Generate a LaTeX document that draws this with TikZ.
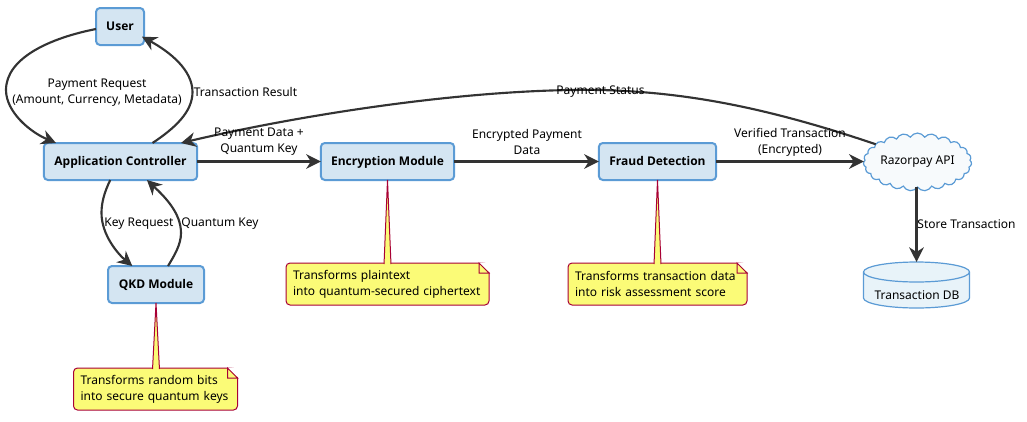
\documentclass[tikz,border=0pt]{standalone}
\usepackage{fontspec}
\setmainfont{Noto Sans}
\newfontfamily\modfont{Open Sans}
\usetikzlibrary{arrows.meta,shapes.symbols}
\definecolor{boxfill}{HTML}{D4E5F2}
\definecolor{boxline}{HTML}{5B9BD5}
\definecolor{cloudfill}{HTML}{F7FAFC}
\definecolor{dbfill}{HTML}{E8F3F9}
\definecolor{notefill}{HTML}{FBFB77}
\definecolor{noteline}{HTML}{A80036}
\definecolor{flowline}{HTML}{333333}

\begin{document}
\begin{tikzpicture}[x=0.75pt, y=-0.75pt]
\tikzset{
  every node/.style={font=\fontsize{9}{12}\selectfont, align=center, outer sep=0pt},
  modbox/.style={draw=boxline, fill=boxfill, line width=1.5pt, rounded corners=3pt,
    inner sep=0pt, minimum height=27.75pt, text height=8pt, text depth=1.5pt},
  notebox/.style={draw=noteline, fill=notefill, line width=0.75pt, rounded corners=3pt,
    text width=#1, inner xsep=5.25pt, inner ysep=0pt, minimum height=31.5pt, align=left},
  notetip/.style={draw=noteline, fill=notefill, line width=0.75pt},
  dbshape/.style={draw=boxline, fill=dbfill, line width=0.9pt},
  flow/.style={draw=flowline, line width=1.6pt,
    -{Stealth[length=11pt, width=11pt, inset=3.5pt]}},
}
\useasboundingbox (0,0) rectangle (1027,421);

\node[modbox, minimum width=36pt] (user) at (120,26.5) {\modfont\bfseries User};
\node[modbox, minimum width=115pt] (app) at (120.5,161.5) {\modfont\bfseries Application Controller};
\node[modbox, minimum width=100pt] (enc) at (387.5,161.5) {\modfont\bfseries Encryption Module};
\node[modbox, minimum width=88pt] (fraud) at (657.5,161.5) {\modfont\bfseries Fraud Detection};
\node[modbox, minimum width=72pt] (qkd) at (156,284.5) {\modfont\bfseries QKD Module};
\node[draw=boxline, fill=cloudfill, line width=0.9pt, cloud, cloud puffs=23, cloud puff arc=120,
  aspect=2.1, inner sep=0pt, minimum width=76pt, minimum height=36pt] (rzp) at (917.5,162) {Razorpay API};

% the database
\node[inner sep=0pt, minimum width=79.5pt, minimum height=34.5pt] (db) at (916.5,285) {};
\draw[dbshape] ([yshift=-7.5pt]db.north west) arc[start angle=180, end angle=0, x radius=39.75pt, y radius=7.5pt]
  -- ([yshift=7.5pt]db.south east) arc[start angle=0, end angle=-180, x radius=39.75pt, y radius=7.5pt] -- cycle;
\draw[dbshape, fill=none] ([yshift=-7.5pt]db.north west) arc[start angle=180, end angle=360, x radius=39.75pt, y radius=7.5pt];
\node (dbtext) at (917,295) {Transaction DB};

% the notes
\node[notebox=141.75pt] (noteenc) at (387.5,284) {Transforms plaintext\\into quantum-secured ciphertext};
\node[notebox=123.75pt] (notefraud) at (657.5,284) {Transforms transaction data\\into risk assessment score};
\node[notebox=112.5pt] (noteqkd) at (155.5,389) {Transforms random bits\\into secure quantum keys};

\path[notetip] ([xshift=-2.6pt, yshift=-0.75pt]enc.south |- noteenc.north) -- (enc.south) -- ([xshift=2.6pt, yshift=-0.75pt]enc.south |- noteenc.north);
\path[notetip] ([xshift=-2.6pt, yshift=-0.75pt]fraud.south |- notefraud.north) -- (fraud.south) -- ([xshift=2.6pt, yshift=-0.75pt]fraud.south |- notefraud.north);
\path[notetip] ([xshift=-2.6pt, yshift=-0.75pt]qkd.south |- noteqkd.north) -- (qkd.south) -- ([xshift=2.6pt, yshift=-0.75pt]qkd.south |- noteqkd.north);

\fill[white] ([xshift=-7.5pt]noteenc.north east) -- ([xshift=1pt, yshift=1pt]noteenc.north east) -- ([xshift=1pt, yshift=-7.5pt]noteenc.north east) -- cycle;
\fill[white] ([xshift=-7.5pt]notefraud.north east) -- ([xshift=1pt, yshift=1pt]notefraud.north east) -- ([xshift=1pt, yshift=-7.5pt]notefraud.north east) -- cycle;
\fill[white] ([xshift=-7.5pt]noteqkd.north east) -- ([xshift=1pt, yshift=1pt]noteqkd.north east) -- ([xshift=1pt, yshift=-7.5pt]noteqkd.north east) -- cycle;
\draw[notetip] ([xshift=-7.5pt]noteenc.north east) -- ++(0pt,-7.5pt) -- ++(7.5pt,0pt) -- cycle;
\draw[notetip] ([xshift=-7.5pt]notefraud.north east) -- ++(0pt,-7.5pt) -- ++(7.5pt,0pt) -- cycle;
\draw[notetip] ([xshift=-7.5pt]noteqkd.north east) -- ++(0pt,-7.5pt) -- ++(7.5pt,0pt) -- cycle;

% the flows
\draw[flow] (user.186) .. controls (50,38) and (6,58) .. (6,90) .. controls (6,112) and (30,132) .. (app.164);
\draw[flow] (app.30) .. controls (175,128) and (192.5,112) .. (192.5,92) .. controls (192.5,70) and (170,52) .. ([xshift=-1.5pt]user.-23);
\draw[flow] (app.241) .. controls (104,193) and (101.5,203) .. (101.5,213) .. controls (101.5,235) and (118,254) .. (qkd.142);
\draw[flow] (qkd.57) .. controls (174,256) and (181,245) .. (181,233) .. controls (181,213) and (165,197) .. (app.-35);
\draw[flow] (app) -- (enc);
\draw[flow] (enc) -- (fraud);
\draw[flow] (fraud) -- (fraud -| rzp.west);
\draw[flow] (rzp.157) .. controls (760,105) and (680,92) .. (600,90) .. controls (470,88) and (300,115) .. (app.17);
\draw[flow] (db.north |- rzp.south) -- (db.north);

\node (lblrequest) at (97,93) {Payment Request\\(Amount, Currency, Metadata)};
\node (lblresult) at (245.5,92) {Transaction Result};
\node (lblstatus) at (600.5,92) {Payment Status};
\node (lbldata) at (259,142) {Payment Data +\\Quantum Key};
\node (lblencrypted) at (527,142) {Encrypted Payment\\Data};
\node (lblverified) at (790,142) {Verified Transaction\\(Encrypted)};
\node (lblkeyreq) at (139,224) {Key Request};
\node (lblqkey) at (220,224) {Quantum Key};
\node (lblstore) at (966.5,224) {Store Transaction};
\end{tikzpicture}
\end{document}
